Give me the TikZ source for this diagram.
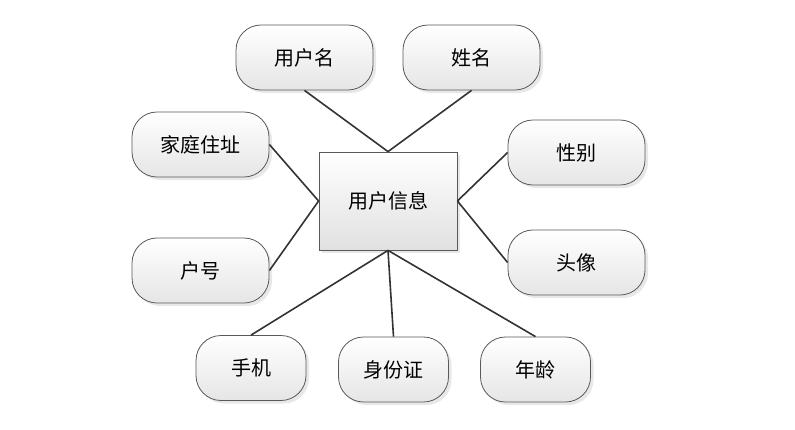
\documentclass[tikz,border=0pt]{standalone}
\usepackage{fontspec}
\newfontfamily\cjk{Noto Sans CJK SC}
\usetikzlibrary{shadows}
\begin{document}
\begin{tikzpicture}[x=1pt,y=-1pt,
  ent/.style={draw=black!65, line width=0.8pt, top color=white, bottom color=black!10,
    minimum width=137pt, minimum height=65pt, rounded corners=25pt, font=\cjk\fontsize{20}{24}\selectfont,
    drop shadow={opacity=0.18, shadow xshift=3pt, shadow yshift=-3pt}},
  sment/.style={ent, minimum width=110pt},
  main/.style={draw=black!65, line width=0.8pt, top color=white, bottom color=black!12,
    minimum width=138pt, minimum height=98pt, font=\cjk\fontsize{20}{24}\selectfont,
    drop shadow={opacity=0.18, shadow xshift=3pt, shadow yshift=-3pt}},
  link/.style={draw=black!80, line width=1.6pt}]
\useasboundingbox (0,0) rectangle (795,429);
\node[main] (c) at (388,201) {用户信息};
\node[ent] (yhm) at (304.5,57.5) {用户名};
\node[ent] (xm) at (471.5,57.5) {姓名};
\node[ent] (jt) at (200.5,144.5) {家庭住址};
\node[ent] (xb) at (576.5,152.5) {性别};
\node[ent] (hh) at (200.5,270.5) {户号};
\node[ent] (tx) at (576.5,262.5) {头像};
\node[sment] (sj) at (251,368) {手机};
\node[sment] (sfz) at (393.5,369.5) {身份证};
\node[sment] (nl) at (535.5,369.5) {年龄};
\draw[link] (yhm.south) -- (c.north);
\draw[link] (xm.south) -- (c.north);
\draw[link] (jt.east) -- (c.west);
\draw[link] (hh.east) -- (c.west);
\draw[link] (xb.west) -- (c.east);
\draw[link] (tx.west) -- (c.east);
\draw[link] (c.south) -- (sj.north);
\draw[link] (c.south) -- (sfz.north);
\draw[link] (c.south) -- (nl.north);
\end{tikzpicture}
\end{document}
